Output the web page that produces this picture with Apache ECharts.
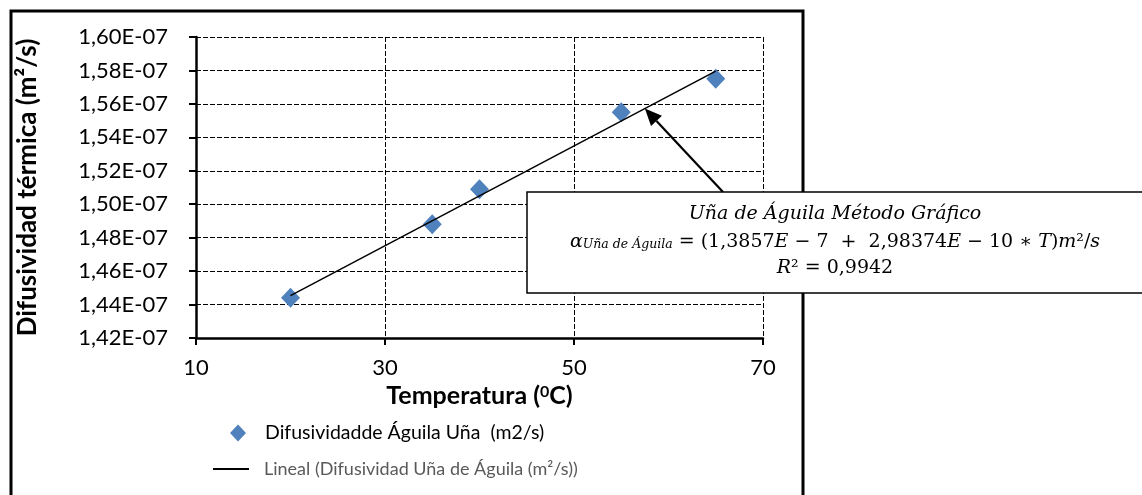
<!DOCTYPE html>
<html>
<head>
<meta charset="utf-8">
<script src="https://cdn.jsdelivr.net/npm/echarts@6/dist/echarts.min.js"></script>
<style>
  html, body { margin: 0; padding: 0; background: #ffffff; }
  #chart { width: 1142px; height: 495px; }
</style>
</head>
<body>
<div id="chart"></div>
<script>
// Measured thermal diffusivity of Uña de Águila vs. temperature
const temperatures = [20, 35, 40, 55, 65];
const diffusivity = [1.444e-7, 1.488e-7, 1.509e-7, 1.555e-7, 1.575e-7];

// Linear fit stated in the annotation box: alpha = a + b * T
const fitIntercept = 1.3857e-7;
const fitSlope = 2.98374e-10;
const fitRange = [20, 65];
const arrowTargetT = 57.5;

// Axis ticks
const xTicks = [10, 30, 50, 70];
const yTicks = [1.42e-7, 1.44e-7, 1.46e-7, 1.48e-7, 1.50e-7, 1.52e-7, 1.54e-7, 1.56e-7, 1.58e-7, 1.60e-7];
const yTickLabels = ['1,42E-07', '1,44E-07', '1,46E-07', '1,48E-07', '1,50E-07',
                     '1,52E-07', '1,54E-07', '1,56E-07', '1,58E-07', '1,60E-07'];

const seriesNames = ['Difusividadde Águila Uña  (m2/s)', 'Lineal (Difusividad Uña de Águila (m²/s))'];
const xAxisName = 'Temperatura ({sup|0}C)';
const yAxisName = 'Difusividad térmica (m²/s)';

const fitLine = fitRange.map(t => [t, fitIntercept + fitSlope * t]);
const points = temperatures.map((t, i) => [t, diffusivity[i]]);

const chart = echarts.init(document.getElementById('chart'), null, { renderer: 'canvas' });

const sansFont = 'Lato, "Open Sans", sans-serif';
const mathFont = '"DejaVu Serif", "Liberation Serif", serif';
const dashed = { color: '#000', width: 1, type: [5, 2] };

chart.setOption({
  animation: false,
  backgroundColor: '#ffffff',
  grid: { left: 196, top: 37, width: 567, height: 301, containLabel: false },
  xAxis: {
    type: 'value',
    min: xTicks[0],
    max: xTicks[xTicks.length - 1],
    interval: xTicks[1] - xTicks[0],
    axisLine: { onZero: false, lineStyle: { color: '#000', width: 2.5 } },
    axisTick: { show: true, length: 7, lineStyle: { color: '#000', width: 2 } },
    axisLabel: { color: '#000', fontSize: 22, fontFamily: sansFont, margin: 19 },
    splitLine: { show: true, lineStyle: dashed },
    name: xAxisName,
    nameLocation: 'middle',
    nameGap: 31,
    nameTextStyle: {
      color: '#000', fontSize: 25, fontWeight: 'bold', fontFamily: sansFont,
      rich: { sup: { fontSize: 16, fontWeight: 'bold', fontFamily: sansFont, color: '#000', verticalAlign: 'top' } }
    }
  },
  yAxis: {
    type: 'value',
    min: yTicks[0],
    max: yTicks[yTicks.length - 1],
    interval: yTicks[1] - yTicks[0],
    axisLine: { onZero: false, lineStyle: { color: '#000', width: 2.5 } },
    axisTick: { show: true, length: 7, lineStyle: { color: '#000', width: 2 } },
    axisLabel: {
      color: '#000', fontSize: 22, fontFamily: sansFont, margin: 28,
      formatter: (v, i) => yTickLabels[i]
    },
    splitLine: { show: true, lineStyle: dashed },
    name: yAxisName,
    nameLocation: 'middle',
    nameRotate: 90,
    nameGap: 155,
    nameTextStyle: { color: '#000', fontSize: 26, fontWeight: 'bold', fontFamily: sansFont }
  },
  legend: [
    {
      data: [{ name: seriesNames[0], icon: 'diamond' }],
      left: 225, top: 418,
      itemWidth: 16, itemHeight: 17,
      itemStyle: { opacity: 1 },
      textStyle: { color: '#000', fontSize: 19.5, fontFamily: sansFont, padding: [0, 0, 0, 14] },
      selectedMode: false
    },
    {
      data: [{ name: seriesNames[1], itemStyle: { opacity: 0 } }],
      left: 207, top: 455,
      itemWidth: 36, itemHeight: 16,
      lineStyle: { color: '#000', width: 2 },
      textStyle: { color: '#595959', fontSize: 18, fontFamily: sansFont, padding: [0, 0, 0, 10] },
      selectedMode: false
    }
  ],
  series: [
    {
      name: seriesNames[1],
      type: 'line',
      data: fitLine,
      symbol: 'none',
      lineStyle: { color: '#000', width: 1.5 },
      itemStyle: { color: '#000' },
      z: 3
    },
    {
      name: seriesNames[0],
      type: 'scatter',
      data: points,
      symbol: 'diamond',
      symbolSize: [19, 20],
      itemStyle: { color: '#4F81BD', opacity: 1 },
      z: 2
    }
  ]
});

// Annotation box, arrow and outer frame
const tip = chart.convertToPixel({ gridIndex: 0 }, [arrowTargetT, fitIntercept + fitSlope * arrowTargetT]);
const tail = [723, 192];
const dx = tip[0] - tail[0], dy = tip[1] - tail[1];
const len = Math.hypot(dx, dy);
const ux = dx / len, uy = dy / len;
const headLen = 17, headHalf = 7.5;
const base = [tip[0] - ux * headLen, tip[1] - uy * headLen];
const head = [
  tip,
  [base[0] - uy * headHalf, base[1] + ux * headHalf],
  [base[0] + uy * headHalf, base[1] - ux * headHalf]
];

const mathRich = {
  i: { fontFamily: mathFont, fontStyle: 'italic', fontSize: 19, fill: '#000' },
  r: { fontFamily: mathFont, fontSize: 19, fill: '#000' },
  sub: { fontFamily: mathFont, fontStyle: 'italic', fontSize: 12.5, fill: '#000', verticalAlign: 'bottom' }
};
const boxCenterX = 835;

chart.setOption({
  graphic: [
    {
      type: 'rect', z: 0, silent: true,
      shape: { x: 11, y: 11, width: 792, height: 500 },
      style: { fill: 'none', stroke: '#000', lineWidth: 3 }
    },
    {
      type: 'line', z: 50, silent: true,
      shape: { x1: tail[0], y1: tail[1], x2: base[0], y2: base[1] },
      style: { stroke: '#000', lineWidth: 2.2 }
    },
    {
      type: 'polygon', z: 50, silent: true,
      shape: { points: head },
      style: { fill: '#000' }
    },
    {
      type: 'rect', z: 60, silent: true,
      shape: { x: 527, y: 192, width: 640, height: 101 },
      style: { fill: '#fff', stroke: '#000', lineWidth: 1.5 }
    },
    {
      type: 'text', z: 70, silent: true,
      style: {
        x: boxCenterX, y: 214, align: 'center', verticalAlign: 'middle',
        text: '{i|Uña de Águila Método Gráfico}', rich: mathRich
      }
    },
    {
      type: 'text', z: 70, silent: true,
      style: {
        x: boxCenterX, y: 242, align: 'center', verticalAlign: 'middle',
        text: '{i|α}{sub|Uña de Águila}{r| = (1,3857}{i|E}{r| − 7  +  2,98374}{i|E}{r| − 10 ∗ }{i|T}{r|)}{i|m}{r|²/}{i|s}',
        rich: mathRich
      }
    },
    {
      type: 'text', z: 70, silent: true,
      style: {
        x: boxCenterX, y: 268, align: 'center', verticalAlign: 'middle',
        text: '{i|R}{r|² = 0,9942}', rich: mathRich
      }
    }
  ]
});
</script>
</body>
</html>
